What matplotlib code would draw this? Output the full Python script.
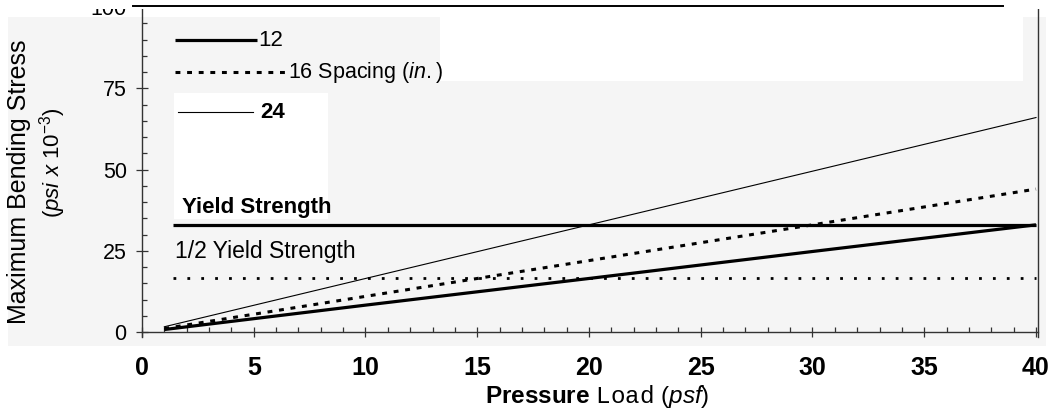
"""Bending stress vs pressure load for three stud spacings."""
import matplotlib
matplotlib.use("Agg")
import matplotlib.pyplot as plt
import matplotlib.patches as mpatches
from matplotlib.lines import Line2D
from matplotlib.ticker import MultipleLocator

plt.rcParams["font.family"] = "Liberation Sans"
plt.rcParams["mathtext.fontset"] = "custom"
plt.rcParams["mathtext.rm"] = "Liberation Sans"
plt.rcParams["mathtext.it"] = "Liberation Sans:italic"
plt.rcParams["mathtext.bf"] = "Liberation Sans:bold"
plt.rcParams["mathtext.tt"] = "Liberation Mono"

# ---- data ----
loads = [1, 10, 20, 30, 40]
stress_12 = [0.8, 8.3, 16.5, 24.8, 33.0]
stress_16 = [1.1, 11.0, 22.0, 33.0, 44.0]
stress_24 = [1.65, 16.5, 33.0, 49.5, 66.0]
limit_x = [1.4, 40]
yield_strength = [33.0, 33.0]
half_yield = [16.5, 16.5]

W, H = 1056, 413
fig = plt.figure(figsize=(W / 100, H / 100), dpi=100)
fig.patch.set_facecolor("white")


def fx(x):
    return x / W


def fy(y):
    return 1 - y / H


def fig_rect(x0, y0, x1, y1, color, z):
    r = mpatches.Rectangle((fx(x0), fy(y1)), fx(x1) - fx(x0), fy(y0) - fy(y1),
                           transform=fig.transFigure, facecolor=color,
                           edgecolor="none", zorder=z)
    fig.patches.append(r)


# scanned-page background: grey plot area with white blotches
fig_rect(8, 17, 1046, 346, "#f5f5f5", -3)
fig_rect(174, 93, 328, 219, "white", -2)
fig_rect(440, 17, 1023, 81, "white", -2)

ax = fig.add_axes([fx(142), fy(337), fx(1038) - fx(142), fy(7) - fy(337)])
ax.set_facecolor("none")
ax.set_xlim(0, 40.09)
ax.set_ylim(-1.5, 100)

ax.plot(limit_x, yield_strength, color="black", lw=2.3, solid_capstyle="butt")
ax.plot(limit_x, half_yield, color="black", lw=2.0, dashes=(1.0, 4.0))
ax.plot(loads, stress_12, color="black", lw=2.3, solid_capstyle="butt")
ax.plot(loads, stress_16, color="black", lw=2.2, dashes=(1.6, 2.2))
ax.plot(loads, stress_24, color="black", lw=0.8)

# in-plot legend
ax.plot([1.48, 5.15], [89.8, 89.8], color="black", lw=2.3, solid_capstyle="butt")
ax.text(5.2, 89.8, "12", fontsize=16, va="center", ha="left")
ax.plot([1.48, 6.4], [80.0, 80.0], color="black", lw=2.2, dashes=(1.6, 2.2))
ax.text(6.55, 80.0, r"16 Spacing ($\mathit{in.}$)", fontsize=15.5, va="center", ha="left")
ax.plot([1.6, 4.97], [67.7, 67.7], color="black", lw=0.8)
ax.text(5.3, 67.7, "24", fontsize=16, fontweight="bold", va="center", ha="left")

ax.text(1.8, 38.4, "Yield Strength", fontsize=16, fontweight="bold", va="center")
ax.text(1.48, 24.8, "1/2 Yield Strength", fontsize=16.5, va="center")

# axes styling
ax.spines["top"].set_visible(False)
ax.spines["bottom"].set_position(("data", 0))
for s in ["left", "right", "bottom"]:
    ax.spines[s].set_linewidth(1.0)
    ax.spines[s].set_color("#333333")

ax.xaxis.set_major_locator(MultipleLocator(5))
ax.xaxis.set_minor_locator(MultipleLocator(1))
ax.yaxis.set_major_locator(MultipleLocator(25))
ax.yaxis.set_minor_locator(MultipleLocator(5))
ax.tick_params(axis="x", which="major", direction="inout", length=7, width=0.9,
               color="#333333", pad=14, labelsize=18)
ax.tick_params(axis="x", which="minor", direction="in", length=3.5, width=0.9,
               color="#333333")
ax.tick_params(axis="y", which="major", direction="inout", length=8, width=0.9,
               color="#333333", pad=7, labelsize=15.5)
ax.tick_params(axis="y", which="minor", direction="in", length=3.5, width=0.9,
               color="#333333")
for lab in ax.get_xticklabels():
    lab.set_fontweight("bold")

# axis titles
fig.text(fx(19), fy(182), "Maximum Bending Stress", rotation=90, fontsize=18,
         ha="center", va="center")
fig.text(fx(53), fy(163), r"($\mathit{psi\ x}$ 10$^{-3}$)", rotation=90,
         fontsize=16, ha="center", va="center")
fig.text(fx(597), fy(396), r"$\mathbf{Pressure}$ $\mathtt{Load}$ ($\mathit{psf}$)",
         fontsize=17.5, ha="center", va="center")

# white strip and rule across the top of the scan
fig_rect(0, 0, W, 9, "white", 10)
fig.lines.append(Line2D([fx(133), fx(1003)], [fy(6), fy(6)], transform=fig.transFigure,
                        color="black", lw=1.4, zorder=11))

fig.savefig("out.png", dpi=100)
plt.close()
